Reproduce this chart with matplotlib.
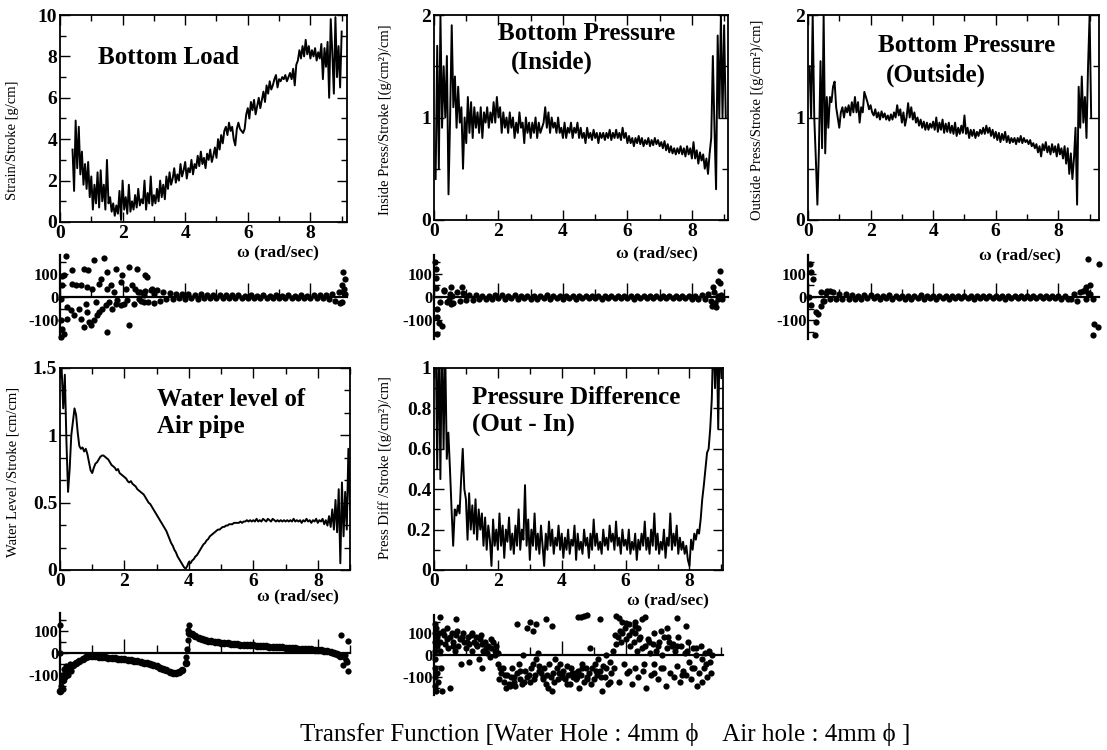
import numpy as np
import matplotlib
matplotlib.use("Agg")
import matplotlib.pyplot as plt
from matplotlib.ticker import MultipleLocator, FuncFormatter

plt.rcParams['font.family'] = ['Liberation Serif', 'DejaVu Serif']
plt.rcParams['font.weight'] = 'bold'
plt.rcParams['axes.unicode_minus'] = False

W, H = 1107, 750

# ---------------- data ----------------
# Bottom Load amplitude, omega = 0.40 .. 9.00 step 0.05
load_start = 0.40
load_amp = [
    3.5, 1.5, 4.9, 2.6, 4.6, 2.3, 3.4, 1.8, 2.8, 1.6,
    2.9, 1.2, 2.2, 0.6, 1.8, 0.9, 2.4, 0.7, 2.5, 1.0,
    1.8, 0.6, 3.0, 0.9, 1.2, 0.5, 0.9, 0.3, 0.8, 0.4,
    1.5, 0.1, 2.0, 0.6, 1.2, 0.4, 1.8, 0.5, 1.0, 0.6,
    1.3, 0.7, 1.6, 0.8, 1.1, 0.9, 2.0, 0.6, 1.4, 0.9,
    2.2, 0.8, 1.3, 0.9, 1.6, 1.0, 2.0, 1.2, 1.8, 1.1,
    2.2, 1.6, 2.4, 1.8, 2.1, 2.6, 1.9, 2.3, 2.0, 2.8,
    2.2, 2.5, 2.9, 2.1, 2.6, 2.4, 3.0, 2.3, 2.8, 2.6,
    3.2, 2.7, 3.4, 2.8, 3.1, 2.6, 3.3, 3.0, 3.5, 2.9,
    3.2, 3.6, 3.1, 4.0, 3.5, 4.2, 3.8, 4.4, 4.6, 4.2,
    4.8, 4.4, 4.6, 4.0, 3.7, 4.5, 4.8, 4.5, 4.4, 4.3,
    4.5, 5.2, 5.5, 5.0, 5.8, 5.4, 5.9, 5.2, 5.6, 6.0,
    5.5, 5.9, 6.3, 5.8, 6.6, 6.2, 6.8, 6.4, 6.6, 6.9,
    7.1, 6.5, 6.9, 6.8, 7.0, 6.9, 7.1, 6.8, 7.0, 7.2,
    6.9, 7.4, 6.6, 7.6, 7.8, 8.3, 7.9, 8.5, 8.0, 8.8,
    8.1, 8.5, 7.9, 8.3, 8.0, 8.4, 7.8, 8.2, 7.9, 8.6,
    6.9, 8.4, 7.5, 8.7, 6.0, 9.8, 8.2, 6.2, 9.9, 7.0,
    8.5, 6.5, 9.2,
]

# Bottom Pressure (Inside), omega = 0.05 .. 9.05 step 0.05
inside_start = 0.05
inside_amp = [
    0.4, 1.7, 0.5, 2.0, 0.9, 1.5, 1.0, 1.6, 0.25, 1.0,
    1.9, 1.1, 1.4, 0.9, 1.3, 0.95, 1.1, 0.5, 1.0, 0.75,
    1.2, 0.85, 1.15, 0.8, 1.1, 0.9, 1.05, 0.85, 1.1, 0.8,
    1.05, 0.95, 1.1, 0.9, 1.05, 0.95, 1.15, 0.95, 1.2, 1.0,
    1.1, 0.85, 1.05, 0.9, 1.0, 0.85, 1.05, 0.9, 1.0, 0.8,
    0.95, 0.85, 1.05, 0.9, 0.95, 0.75, 1.0, 0.85, 0.95, 0.8,
    0.95, 0.85, 1.0, 0.8, 0.95, 0.85, 0.9, 0.95, 1.1, 0.9,
    1.05, 0.85, 1.0, 0.9, 0.95, 0.85, 1.0, 0.85, 0.9, 0.8,
    0.95, 0.8, 0.9, 0.85, 0.95, 0.8, 0.9, 0.85, 0.95, 0.8,
    0.9, 0.8, 0.85, 0.75, 0.9, 0.8, 0.85, 0.78, 0.88, 0.8,
    0.85, 0.75, 0.85, 0.8, 0.85, 0.78, 0.85, 0.8, 0.88, 0.78,
    0.85, 0.8, 0.88, 0.8, 0.85, 0.78, 0.9, 0.8, 0.85, 0.75,
    0.82, 0.75, 0.8, 0.72, 0.8, 0.75, 0.82, 0.74, 0.8, 0.72,
    0.78, 0.74, 0.8, 0.72, 0.78, 0.73, 0.8, 0.74, 0.78, 0.72,
    0.76, 0.7, 0.77, 0.68, 0.74, 0.66, 0.72, 0.65, 0.7, 0.64,
    0.7, 0.65, 0.72, 0.64, 0.7, 0.62, 0.72, 0.64, 0.7, 0.6,
    0.76, 0.6, 0.68, 0.55, 0.66, 0.58, 0.64, 0.5, 0.6, 0.45,
    0.65, 0.8, 1.6, 0.9, 0.3, 1.8, 1.0, 2.0, 1.0, 1.9,
    1.0,
]

# Bottom Pressure (Outside), omega = 0.05 .. 9.05 step 0.05
outside_start = 0.05
outside_amp = [
    1.5, 1.0, 2.0, 1.0, 0.6, 0.15, 0.7, 1.55, 0.7, 2.0,
    0.65, 1.2, 0.9, 1.2, 1.15, 1.3, 1.35, 1.1, 1.0, 0.9,
    1.05, 1.1, 1.0, 1.1, 1.05, 1.12, 1.02, 1.15, 1.05, 1.2,
    1.05, 1.15, 0.95, 1.1, 1.05, 1.25, 1.2, 1.15, 1.08, 1.12,
    1.05, 1.02, 1.08, 1.0, 1.05, 0.98, 1.06, 1.0, 1.04, 0.98,
    1.02, 0.97, 1.03, 0.98, 1.05, 1.0, 1.12, 1.02, 1.08, 0.95,
    1.05, 0.92, 1.0, 1.14, 1.0, 1.1, 0.98, 1.05, 0.95, 1.0,
    0.92, 0.98, 0.9, 0.96, 0.88, 0.95, 0.88, 0.94, 0.9, 0.96,
    0.88, 1.0, 0.86, 0.95, 0.88, 0.98, 0.85, 0.94, 0.86, 0.95,
    0.85, 0.92, 0.84, 0.95, 0.82, 0.9, 0.84, 0.92, 0.85, 1.02,
    0.84, 0.9, 0.8, 0.88, 0.82, 0.88, 0.8, 0.86, 0.82, 0.88,
    0.84, 0.9, 0.84, 0.92, 0.85, 0.9, 0.82, 0.88, 0.8, 0.86,
    0.78, 0.85, 0.76, 0.84, 0.78, 0.86, 0.76, 0.82, 0.75, 0.8,
    0.76, 0.8, 0.74, 0.8, 0.76, 0.82, 0.75, 0.8, 0.76, 0.78,
    0.74, 0.78, 0.72, 0.75, 0.7, 0.74, 0.66, 0.72, 0.62, 0.74,
    0.68, 0.76, 0.66, 0.72, 0.64, 0.74, 0.66, 0.72, 0.62, 0.74,
    0.64, 0.7, 0.6, 0.72, 0.55, 0.7, 0.45, 0.65, 0.4, 0.6,
    0.9, 0.15, 1.3, 0.9, 1.4, 0.95, 1.2, 0.8, 1.5, 2.0,
    1.0,
]

# Water level of air pipe, omega = 0.05 .. 9.00 step 0.05
water_start = 0.05
water_amp = [
    1.5, 1.2, 1.45, 0.95, 0.58, 0.75, 1.0, 1.1, 1.2, 1.15,
    1.02, 0.92, 0.9, 0.91, 0.88, 0.9, 0.86, 0.8, 0.74, 0.72,
    0.76, 0.79, 0.8, 0.82, 0.84, 0.85, 0.85, 0.84, 0.83, 0.82,
    0.8, 0.78, 0.77, 0.76, 0.74, 0.75, 0.72, 0.71, 0.7, 0.69,
    0.68, 0.66, 0.65, 0.66, 0.64, 0.63, 0.62, 0.6, 0.59, 0.58,
    0.57, 0.56, 0.54, 0.52, 0.5, 0.49, 0.47, 0.45, 0.43, 0.41,
    0.39, 0.37, 0.35, 0.33, 0.31, 0.29, 0.26, 0.23, 0.2, 0.18,
    0.15, 0.13, 0.1, 0.08, 0.06, 0.04, 0.02, 0.01, 0.03, 0.06,
    0.05, 0.07, 0.08, 0.1, 0.11, 0.13, 0.15, 0.17, 0.19, 0.2,
    0.22, 0.23, 0.25, 0.26, 0.27, 0.28, 0.29, 0.3, 0.3, 0.31,
    0.32, 0.32, 0.33, 0.33, 0.34, 0.34, 0.34, 0.35, 0.35, 0.35,
    0.35, 0.36, 0.35, 0.36, 0.36, 0.37, 0.36, 0.37, 0.36, 0.37,
    0.36, 0.38, 0.36, 0.37, 0.36, 0.38, 0.37, 0.36, 0.38, 0.37,
    0.36, 0.38, 0.37, 0.36, 0.37, 0.36, 0.37, 0.36, 0.37, 0.36,
    0.37, 0.36, 0.37, 0.36, 0.38, 0.36, 0.37, 0.36, 0.37, 0.35,
    0.37, 0.36, 0.38, 0.36, 0.37, 0.35, 0.37, 0.36, 0.38, 0.35,
    0.37, 0.36, 0.38, 0.34, 0.37, 0.33, 0.4, 0.32, 0.45, 0.3,
    0.52, 0.28, 0.6, 0.05, 0.65, 0.25, 0.58, 0.3, 0.9, 0.45,
]

# Pressure difference (Out - In), omega = 0.05 .. 9.00 step 0.05
diff_start = 0.05
diff_amp = [
    1.2, 0.5, 1.2, 0.45, 1.2, 0.6, 1.1, 0.55, 0.68, 0.5,
    0.3, 0.12, 0.3, 0.27, 0.32, 0.28, 0.45, 0.6, 0.4, 0.35,
    0.15, 0.38, 0.2, 0.32, 0.18, 0.35, 0.15, 0.3, 0.2, 0.28,
    0.12, 0.26, 0.1, 0.22, 0.15, 0.02, 0.25, 0.12, 0.2, 0.1,
    0.28, 0.12, 0.22, 0.06, 0.2, 0.14, 0.26, 0.1, 0.18, 0.08,
    0.22, 0.12, 0.3, 0.1, 0.2, 0.15, 0.42, 0.12, 0.25, 0.05,
    0.2, 0.12, 0.28, 0.1, 0.18, 0.08, 0.22, 0.12, 0.02, 0.18,
    0.1, 0.24, 0.12, 0.2, 0.08, 0.16, 0.12, 0.22, 0.1, 0.18,
    0.06, 0.16, 0.1, 0.2, 0.08, 0.15, 0.12, 0.22, 0.05, 0.18,
    0.1, 0.14, 0.08, 0.2, 0.12, 0.16, 0.06, 0.18, 0.1, 0.25,
    0.12, 0.18, 0.1, 0.14, 0.08, 0.2, 0.12, 0.16, 0.1, 0.22,
    0.14, 0.18, 0.1, 0.24, 0.12, 0.16, 0.08, 0.2, 0.12, 0.15,
    0.1, 0.2, 0.08, 0.14, 0.1, 0.18, 0.05, 0.15, 0.1, 0.18,
    0.12, 0.24, 0.1, 0.16, 0.08, 0.2, 0.12, 0.28, 0.1, 0.18,
    0.08, 0.14, 0.1, 0.2, 0.06, 0.16, 0.12, 0.28, 0.1, 0.18,
    0.12, 0.22, 0.08, 0.16, 0.1, 0.14, 0.08, 0.12, 0.05, 0.02,
    0.15, 0.1, 0.18, 0.15, 0.2, 0.18, 0.25, 0.35, 0.42, 0.5,
    0.58, 0.6, 0.7, 0.85, 1.2, 0.9, 1.2, 0.7, 1.2, 0.95,
]

# phase (degrees): dense bands near zero on a 0.1 grid, plus scattered points
load_band_start = 2.5
load_band = [
    20, -15, 25, -20, 30, -25, 28, -15, 22, -10,
    18, -8, 15, -6, 12, -8, 14, -6, 10, -8,
    12, -5, 10, -6, 8, -5, 9, -6, 8, -4,
    7, -6, 8, -4, 6, -5, 7, -4, 6, -5,
    7, -4, 6, -5, 7, -4, 6, -5, 7, -4,
    6, -5, 7, -4, 6, -5, 8, -6, 7, -5,
    9, -8, 12, -15, 20, -20, 15,
]
load_ph_x = [0.02, 0.07, 0.07, 0.13, 0.13, 0.18, 0.23, 0.23, 0.34, 0.39,
             0.39, 0.45, 0.5, 0.61, 0.66, 0.66, 0.77, 0.77, 0.82, 0.87,
             0.87, 0.89, 0.93, 0.98, 1.03, 1.09, 1.09, 1.14, 1.19, 1.24,
             1.24, 1.3, 1.35, 1.4, 1.46, 1.51, 1.51, 1.51, 1.56, 1.62,
             1.67, 1.72, 1.78, 1.78, 1.83, 1.94, 1.94, 1.99, 2.04, 2.1,
             2.15, 2.2, 2.2, 2.31, 2.36, 2.41, 2.47, 2.52, 2.57, 2.68,
             2.68, 2.73, 2.79, 2.95, 3.0, 0.03, 0.05, 0.04, 9.05, 9.1,
             9.0, 9.08, 8.95]
load_ph_y = [-7, 50, -136, 93, -157, 176, -43, -93, -57, 114,
             57, -79, 50, -50, 50, -93, 121, -129, -29, 43,
             -64, 114, -107, -121, 36, 157, -100, -21, -79, 57,
             -64, 79, -50, 169, -36, 107, 36, -150, -21, 50,
             -50, 21, 121, -29, -14, 64, -36, 93, -29, 36,
             -14, 129, -121, 50, -29, 36, 121, -7, 21, 7,
             -21, 93, 86, 36, 14, -170, 90, -100, 107, 79,
             50, 36, -25]

inside_band_start = 0.3
inside_band = [
    25, -20, 15, -25, 20, -15, 18, -12, 10, -12,
    8, -10, 6, -8, 5, -9, 7, -6, 8, -7,
    5, -6, 7, -8, 5, -6, 6, -9, 4, -7,
    6, -5, 7, -8, 5, -6, 6, -7, 5, -6,
    4, -7, 5, -6, 6, -5, 4, -6, 5, -7,
    4, -5, 6, -6, 4, -5, 5, -6, 4, -7,
    5, -5, 6, -6, 4, -5, 6, -6, 5, -5,
    4, -6, 5, -5, 6, -6, 5, -7, 6, -8,
    8, -10, 12, -15, 20, -10, 10,
]
inside_ph_x = [0.05, 0.05, 0.05, 0.1, 0.1, 0.15, 0.26, 0.31, 0.46, 0.52,
               0.52, 0.57, 0.88, 0.03, 0.08, 0.2, 8.61, 8.66, 8.71, 8.76,
               8.81, 8.81, 8.87, 8.87, 8.92]
inside_ph_y = [119, 81, 40, -50, -87, -112, -125, 31, -12, 44,
               -31, 6, 44, 150, -160, -20, -37, 44, -25, -44,
               69, 6, 112, 62, -10]

outside_band_start = 0.4
outside_band = [
    20, -15, 25, -10, 22, -8, 15, -10, 12, -8,
    8, -9, 6, -7, 8, -6, 9, -5, 6, -7,
    5, -6, 7, -8, 5, -6, 6, -9, 4, -7,
    6, -5, 7, -8, 5, -6, 6, -7, 5, -6,
    4, -7, 5, -6, 6, -5, 4, -6, 5, -7,
    4, -5, 6, -6, 4, -5, 5, -6, 4, -7,
    5, -5, 6, -6, 4, -5, 6, -6, 5, -5,
    4, -6, 5, -5, 6, -6, 5, -7, 6, -8,
    -10, 12, -15, 20, 25, -10, 15,
]
outside_ph_x = [0.05, 0.1, 0.16, 0.1, 0.26, 0.32, 0.26, 0.21, 0.59, 0.69,
                0.48, 0.42, 0.03, 8.95, 9.3, 9.0, 8.95, 9.1, 9.15, 9.26,
                9.1, 8.85, 8.9]
outside_ph_y = [143, 107, 79, -36, -64, -71, -107, -164, 19, 25,
                -19, -37, 0, 164, 143, 50, 19, -7, -114, -129,
                -164, 30, 45]

water_ph_start = 0.0
water_ph = [
    -170, -120, -90, -75, -55, -45, -35, -25, -20, -15,
    -12, -14, -16, -18, -20, -21, -22, -24, -26, -28,
    -29, -31, -33, -35, -37, -40, -43, -46, -50, -55,
    -60, -66, -72, -78, -84, -88, -90, -86, -75, -45,
    90, 85, 75, 68, 62, 58, 55, 52, 50, 48,
    46, 44, 43, 42, 40, 39, 38, 37, 36, 35,
    34, 33, 32, 31, 30, 29, 28, 27, 26, 25,
    24, 23, 22, 21, 20, 19, 18, 17, 16, 15,
    14, 12, 10, 8, 5, 2, -5, -15,
]
water_ph_x = [0.0, 0.0, 0.02, 0.05, 0.08, 0.12, 0.15, 0.2, 0.25, 0.3,
              0.35, 3.92, 3.94, 3.96, 3.98, 4.0, 8.72, 8.77, 8.8, 8.85,
              8.88, 8.9, 8.93, 8.93]
water_ph_y = [127, 0, -150, -100, -160, -70, -110, -60, -100, -50,
              -80, -20, 20, 60, 105, 125, 82, -52, -20, -10,
              -30, -40, 52, -82]

diff_ph_x = [
    0.02, 0.02, 0.02, 0.03, 0.03, 0.03, 0.04, 0.04, 0.05, 0.06,
    0.08, 0.10, 0.10, 0.12, 0.15, 0.18, 0.20, 0.22, 0.25, 0.30,
    0.35, 0.40, 0.45, 0.50, 0.50, 0.55, 0.60, 0.65, 0.70, 0.75,
    0.80, 0.85, 0.90, 0.95, 1.00, 1.05, 1.10, 1.10, 1.15, 1.20,
    1.25, 1.30, 1.35, 1.40, 1.45, 1.50, 1.50, 1.55, 1.60, 1.65,
    1.70, 1.75, 1.80, 1.85, 1.90, 1.95, 2.00, 2.00, 2.05, 2.10,
    2.15, 2.20, 2.25, 2.30, 2.35, 2.40, 2.45, 2.50, 2.55, 2.60,
    2.65, 2.70, 2.75, 2.80, 2.85, 2.90, 3.00, 3.05, 3.10, 3.15,
    3.20, 3.25, 3.30, 3.35, 3.40, 3.45, 3.50, 3.55, 3.60, 3.65,
    3.70, 3.75, 3.80, 3.85, 3.90, 3.95, 4.00, 4.05, 4.10, 4.15,
    4.20, 4.25, 4.30, 4.35, 4.40, 4.45, 4.50, 4.55, 4.60, 4.65,
    4.70, 4.75, 4.80, 4.85, 4.90, 4.95, 5.00, 5.05, 5.10, 5.15,
    5.20, 5.25, 5.30, 5.35, 5.40, 5.45, 5.50, 5.55, 5.60, 5.65,
    5.70, 5.75, 5.80, 5.85, 5.90, 5.95, 6.00, 6.05, 6.10, 6.15,
    6.20, 6.25, 6.30, 6.35, 6.40, 6.45, 6.50, 6.55, 6.60, 6.65,
    6.70, 6.75, 6.80, 6.85, 6.90, 6.95, 7.00, 7.05, 7.10, 7.15,
    7.20, 7.25, 7.30, 7.35, 7.40, 7.45, 7.50, 7.55, 7.60, 7.65,
    7.70, 7.75, 7.80, 7.85, 7.90, 7.95, 8.00, 8.05, 8.10, 8.15,
    8.20, 8.25, 8.30, 8.35, 8.40, 8.45, 8.50, 8.55, 8.60, 8.65,
    8.70,
]
diff_ph_y = [
    140, 100, 60, 20, -20, -60, -100, -140, -160, 120,
    80, 40, -80, -120, 100, 60, 20, -60, -160, 90,
    50, 120, 30, 80, -150, 100, 60, 20, 90, 40,
    70, -40, 100, 60, 30, 80, 50, -30, 90, 20,
    60, 80, 40, -20, 70, 50, -60, 20, 60, 10,
    40, -10, 30, 60, 0, 40, -40, 10, -110, -80,
    -60, -120, -150, -90, -130, -100, -60, -120, -140, -80,
    -40, -110, -130, 0, -70, -100, -120, -60, -40, -90,
    -20, 10, -50, -80, -110, -60, -130, -90, -40, -100,
    -160, -120, -20, -60, -80, -40, -100, -70, -110, -50,
    -90, -130, -60, -100, -80, -110, -70, -150, -90, -40,
    -120, -60, -100, -80, 30, -60, -110, -40, -90, -20,
    -70, -160, -50, -100, 0, -130, -30, -80, 20, -60,
    50, 80, -120, 60, 100, -40, 70, -80, 90, 40,
    -130, 60, -60, 20, -100, 80, 30, -70, 40, -150,
    70, 10, -90, 50, -40, 20, -110, 60, -60, 0,
    80, -140, 30, 60, -80, 40, -100, 20, -50, 80,
    -120, 40, -70, 10, -90, 60, -30, -110, 30, -60,
    0, -140, -80, 40, -20, -60, 10, -100, 20, -30,
    0,
]
diff_ph_x2 = [
    0.12, 0.28, 0.42, 0.58, 0.72, 0.88, 1.02, 1.18, 1.32, 1.48,
    1.62, 1.78, 1.92, 2.08, 2.22, 2.38, 2.52, 2.68, 2.82, 2.98,
    3.12, 3.28, 3.42, 3.58, 3.72, 3.88, 4.02, 4.18, 4.32, 4.48,
    4.62, 4.78, 4.92, 5.08, 5.22, 5.38, 5.52, 5.68, 5.82, 5.98,
    6.12, 6.28, 6.42, 6.58, 6.72, 6.88, 7.02, 7.18, 7.32, 7.48,
    7.62, 7.78, 7.92, 8.08, 8.22, 8.38, 8.52, 8.68,
]
diff_ph_y2 = [
    60, 110, 70, 40, 110, 80, 60, 100, 50, 90,
    30, 70, 20, -60, -90, -140, -100, -70, -120, -90,
    -110, -70, -100, -150, -80, -110, -90, -130, -80, -100,
    -60, -110, -130, -70, -100, -60, -120, 90, 110, 120,
    -70, 100, 70, -40, 60, -80, 40, -60, 80, 50,
    40, -90, 20, -60, 30, -120, -40, -80,
]
diff_ph_top_x = [0.2, 0.7, 2.6, 2.9, 3.0, 3.1, 3.2, 3.5, 3.7, 4.5,
                 4.6, 4.7, 4.8, 5.2, 5.7, 5.8, 5.9, 6.0, 6.1, 6.2,
                 6.3, 6.3, 6.4, 6.5, 6.6, 6.9, 7.1, 7.3, 7.6, 7.9]
diff_ph_top_y = [170, 160, 140, 120, 150, 110, 140, 160, 130, 170,
                 172, 175, 178, 160, 175, 165, 150, 145, 140, 110,
                 150, 130, 120, 160, 170, 100, 110, 120, 165, 130]


def grid(start, values, step):
    return start + step * np.arange(len(values))


fig = plt.figure(figsize=(W / 100, H / 100), dpi=100)


def px_box(x0, y0, x1, y1):
    # pixel box (y from top) -> figure fraction
    return [x0 / W, 1 - y1 / H, (x1 - x0) / W, (y1 - y0) / H]


def fig_text(x, y, s, **kw):
    fig.text(x / W, 1 - y / H, s, **kw)


def mag_axes(box, xmax, ymax, ymajor, yminor):
    ax = fig.add_axes(px_box(*box))
    ax.set_xlim(0, xmax)
    ax.set_ylim(0, ymax)
    ax.xaxis.set_major_locator(MultipleLocator(2))
    ax.xaxis.set_minor_locator(MultipleLocator(1))
    ax.yaxis.set_major_locator(MultipleLocator(ymajor))
    ax.yaxis.set_minor_locator(MultipleLocator(yminor))
    ax.yaxis.set_major_formatter(FuncFormatter(lambda v, p: f"{v:g}"))
    ax.tick_params(which='both', direction='in', top=True, right=True,
                   width=1.0, labelsize=14, pad=2)
    ax.tick_params(which='major', length=7)
    ax.tick_params(which='minor', length=4)
    for s in ax.spines.values():
        s.set_linewidth(1.3)
    return ax


def phase_axes(box, xmax):
    ax = fig.add_axes(px_box(*box))
    ax.set_xlim(0, xmax)
    ax.set_ylim(-180, 180)
    ax.patch.set_alpha(0)
    ax.spines['top'].set_visible(False)
    ax.spines['right'].set_visible(False)
    ax.spines['bottom'].set_position(('data', 0))
    ax.spines['bottom'].set_linewidth(1.6)
    ax.spines['left'].set_linewidth(1.6)
    ax.xaxis.set_major_locator(MultipleLocator(2))
    ax.xaxis.set_minor_locator(MultipleLocator(1))
    ax.set_yticks([-100, 0, 100])
    ax.yaxis.set_minor_locator(MultipleLocator(50))
    ax.tick_params(axis='x', which='both', direction='in', labelbottom=False, width=1.0)
    ax.tick_params(axis='x', which='major', length=10)
    ax.tick_params(axis='x', which='minor', length=6)
    ax.tick_params(axis='y', which='both', direction='in', labelsize=12, pad=1, width=1.0)
    ax.tick_params(axis='y', which='major', length=6)
    ax.tick_params(axis='y', which='minor', length=4)
    return ax


def dots(ax, x, y, ms=4.5):
    ax.plot(x, y, 'o', color='black', ms=ms, mec='none', clip_on=False)


line_kw = dict(color='black', lw=1.4)
title_kw = dict(fontsize=18, fontweight='bold', ha='left', va='center')
ylab_kw = dict(fontsize=10.5, fontweight='normal', rotation=90, ha='center', va='center')
xlab_kw = dict(fontsize=12.5, ha='center', va='center')

# ---- Bottom Load ----
ax1 = mag_axes((60, 15, 347, 222), 9.17, 10, 2, 1)
ax1.plot(grid(load_start, load_amp, 0.05), load_amp, **line_kw)
fig_text(98, 58, 'Bottom Load', **title_kw)
fig_text(13, 140, 'Strain/Stroke [g/cm]', **ylab_kw)
fig_text(278, 252, 'ω (rad/sec)', **xlab_kw)
p1 = phase_axes((60, 255, 347, 339), 9.17)
dots(p1, grid(load_band_start, load_band, 0.1), load_band)
dots(p1, load_ph_x, load_ph_y)

# ---- Bottom Pressure (Inside) ----
ax2 = mag_axes((434, 15, 728, 220), 9.12, 2, 1, 0.5)
ax2.plot(grid(inside_start, inside_amp, 0.05), inside_amp, **line_kw)
fig_text(498, 33, 'Bottom Pressure', **title_kw)
fig_text(511, 62, '(Inside)', **title_kw)
fig_text(385, 120, 'Inside Press/Stroke [(g/cm²)/cm]', **ylab_kw)
fig_text(657, 253, 'ω (rad/sec)', **xlab_kw)
p2 = phase_axes((434, 255, 728, 339), 9.12)
dots(p2, grid(inside_band_start, inside_band, 0.1), inside_band)
dots(p2, inside_ph_x, inside_ph_y)

# ---- Bottom Pressure (Outside) ----
ax3 = mag_axes((808, 15, 1099, 220), 9.3, 2, 1, 0.5)
ax3.plot(grid(outside_start, outside_amp, 0.05), outside_amp, **line_kw)
fig_text(878, 46, 'Bottom Pressure', **title_kw)
fig_text(886, 75, '(Outside)', **title_kw)
fig_text(757, 120, 'Outside Press/Stroke [(g/cm²)/cm]', **ylab_kw)
fig_text(1020, 255, 'ω (rad/sec)', **xlab_kw)
p3 = phase_axes((808, 255, 1099, 339), 9.3)
dots(p3, grid(outside_band_start, outside_band, 0.1), outside_band)
dots(p3, outside_ph_x, outside_ph_y)

# ---- Water level of air pipe ----
ax4 = mag_axes((60, 368, 350, 570), 9.0, 1.5, 0.5, 0.5 / 3)
ax4.plot(grid(water_start, water_amp, 0.05), water_amp, **line_kw)
fig_text(157, 400, 'Water level of', **title_kw)
fig_text(157, 427, 'Air pipe', **title_kw)
fig_text(13, 472, 'Water Level /Stroke [cm/cm]', **ylab_kw)
fig_text(298, 596, 'ω (rad/sec)', **xlab_kw)
p4 = phase_axes((60, 613, 350, 693), 9.0)
dots(p4, grid(water_ph_start, water_ph, 0.1), water_ph, ms=5.5)
dots(p4, water_ph_x, water_ph_y)

# ---- Pressure difference ----
ax5 = mag_axes((434, 368, 723, 570), 9.05, 1, 0.2, 0.1)
ax5.plot(grid(diff_start, diff_amp, 0.05), diff_amp, **line_kw)
fig_text(472, 397, 'Pressure Difference', **title_kw)
fig_text(472, 425, '(Out - In)', **title_kw)
fig_text(385, 468, 'Press Diff /Stroke [(g/cm²)/cm]', **ylab_kw)
fig_text(668, 600, 'ω (rad/sec)', **xlab_kw)
p5 = phase_axes((434, 615, 723, 695), 9.05)
dots(p5, diff_ph_x, diff_ph_y)
dots(p5, diff_ph_x2, diff_ph_y2)
dots(p5, diff_ph_top_x, diff_ph_top_y)

# caption
fig_text(605, 735, 'Transfer Function [Water Hole : 4mm ϕ    Air hole : 4mm ϕ ]',
         fontsize=18, fontweight='normal', ha='center', va='center')

fig.savefig('out.png', dpi=100, facecolor='white')
